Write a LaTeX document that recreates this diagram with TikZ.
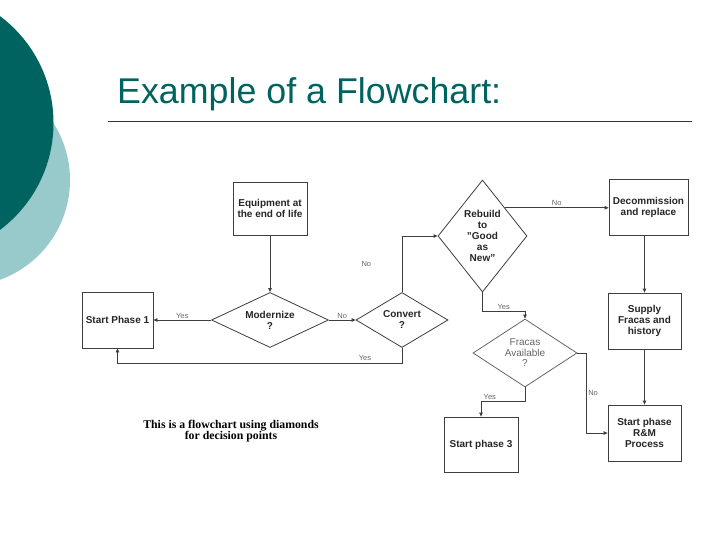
\documentclass[tikz,border=0pt]{standalone}
\usepackage{fontspec}
\setmainfont{Liberation Sans}
\newfontfamily\notefont{Liberation Serif}
\usetikzlibrary{arrows.meta, positioning, shapes.geometric, calc}

\definecolor{slideteal}{RGB}{0,99,96}
\definecolor{lightteal}{RGB}{152,201,203}
\definecolor{flowline}{RGB}{62,62,62}

\begin{document}
\begin{tikzpicture}[x=1pt, y=-1pt,
    box/.style={draw=flowline, line width=0.8pt, align=center, inner sep=1pt,
        font=\fontsize{10}{11}\selectfont\bfseries, text=black!85},
    decision/.style={diamond, draw=flowline, line width=0.8pt, align=center, inner sep=0pt,
        font=\fontsize{10}{11}\selectfont\bfseries, text=black!85},
    flow/.style={-{Triangle[length=4pt, width=3.5pt]}, draw=flowline, line width=0.8pt},
    lbl/.style={font=\fontsize{7.5}{8}\selectfont, text=black!60, inner sep=1.5pt}]
    \useasboundingbox (0,0) rectangle (728,546);
    \clip (0,0) rectangle (728,546);
    \fill[white] (0,0) rectangle (728,546);

    % slide decoration and title
    \fill[lightteal] (-36,180) circle (106pt);
    \fill[slideteal] (-80,123) circle (133.5pt);
    \node[anchor=base west, inner sep=0pt, text=slideteal, font=\fontsize{35.8}{36}\selectfont] (title) at (117,103) {Example of a Flowchart:};
    \draw[black!80, line width=1pt] (108,121) -- (692,121);

    % left part
    \node[box, minimum width=74pt, minimum height=53pt] (equip) at (270,208.5) {Equipment at\\the end of life};
    \node[decision, aspect=2, minimum width=117pt, minimum height=55pt] (modern) at (270,320) {Modernize\\?};
    \node[box, minimum width=71pt, minimum height=56pt] (phase1) at (117.5,320) {Start Phase 1};
    \node[decision, aspect=2, minimum width=92pt, minimum height=55pt] (convert) at (402,320) {Convert\\?};

    % right part
    \node[decision, aspect=0.8, minimum width=89pt, minimum height=112pt] (rebuild) at (482.5,236) {Rebuild\\to\\"Good\\as\\New"};
    \node[box, minimum width=79pt, minimum height=56pt] (decom) at (648.5,207) {Decommission\\and replace};
    \node[box, minimum width=73pt, minimum height=56pt] (supply) at (644.5,321) {Supply\\Fracas and\\history};
    \node[decision, aspect=1.5, minimum width=104pt, minimum height=68pt, draw=black!60,
        font=\fontsize{10}{10.5}\selectfont, text=black!60] (fracas) at (525,353) {Fracas\\Available\\?};
    \node[box, minimum width=74pt, minimum height=55pt] (phase3) at (481,444.5) {Start phase 3};
    \node[box, minimum width=73pt, minimum height=56pt] (rm) at (644.5,433) {Start phase\\R\&M\\Process};

    \node[font=\notefont\bfseries\fontsize{11.8}{11.5}\selectfont, align=center] (note) at (231,431) {This is a flowchart using diamonds\\for decision points};

    % connectors
    \draw[flow] (equip.south) -- (modern.north);
    \draw[flow] (modern) -- node[lbl, above] {Yes} (phase1);
    \draw[flow] (modern) -- node[lbl, above] {No} (convert);
    \draw[flow] (convert.north) |- node[lbl, left=29pt, pos=0.25] {No} (rebuild.west);
    \draw[flow] (convert.south) -- ++(0,15) -| node[lbl, above, pos=0.065] {Yes} (phase1.south);
    \coordinate (rbedge) at ($(rebuild.north)!0.5!(rebuild.east)$);
    \draw[flow] (rbedge) -- node[lbl, above] {No} (rbedge -| decom.west);
    \draw[flow] (supply.north |- decom.south) -- (supply.north);
    \draw[flow] (rebuild.south) -- ++(0,19) -| node[lbl, above, pos=0.25] {Yes} (fracas.north);
    \draw[flow] (fracas.south) -- ++(0,14) -| node[lbl, above, pos=0.4] {Yes} (phase3.north);
    \draw[flow] (fracas.east) -- ++(9,0) |- node[lbl, right, pos=0.25] {No} (rm.west);
    \draw[flow] (supply) -- (rm);
\end{tikzpicture}
\end{document}
